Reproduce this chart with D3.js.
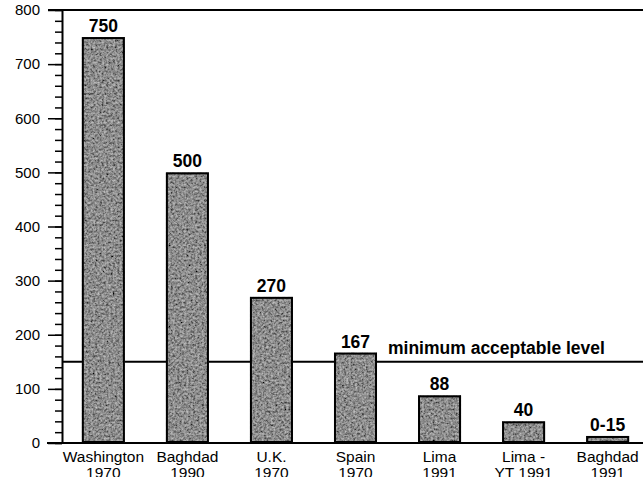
<!DOCTYPE html>
<html>
<head>
<meta charset="utf-8">
<script src="https://cdn.jsdelivr.net/npm/d3@7"></script>
<style>
  body { margin: 0; background: #fff; }
  text { font-family: "Liberation Sans", Arial, Helvetica, sans-serif; fill: #000; }
</style>
</head>
<body>
<script>
let sites = ["Washington 1970", "Baghdad 1990", "U.K. 1970", "Spain 1970", "Lima 1991", "Lima - YT 1991", "Baghdad 1991"];
let nameLines = [["Washington", "1970"], ["Baghdad", "1990"], ["U.K.", "1970"], ["Spain", "1970"], ["Lima", "1991"], ["Lima -", "YT 1991"], ["Baghdad", "1991"]];
let values = [750, 500, 270, 167, 88, 40, 13];
let valueLabels = ["750", "500", "270", "167", "88", "40", "0-15"];
let minLevel = 150;
let minLevelLabel = "minimum acceptable level";
let majorTicks = [0, 100, 200, 300, 400, 500, 600, 700, 800];
let minorTicks = d3.range(0, 801, 20);

let svg = d3.select('body')
  .append('svg')
  .attr("width", 643)
  .attr("height", 477);

let left = 62;
let right = 643;

let y = d3.scaleLinear().domain([0, 800]).range([443, 10]);
let x = d3.scaleBand()
  .domain(sites)
  .range([60, 651])
  .paddingInner(0.488)
  .paddingOuter(0.26);

// grainy grey like the printed bars
let defs = svg.append("defs");
let f = defs.append("filter").attr("id", "grain")
  .attr("x", 0).attr("y", 0).attr("width", 1).attr("height", 1);
f.append("feTurbulence")
  .attr("type", "fractalNoise")
  .attr("baseFrequency", 0.45)
  .attr("numOctaves", 4)
  .attr("seed", 11)
  .attr("result", "noise");
f.append("feColorMatrix")
  .attr("in", "noise")
  .attr("type", "matrix")
  .attr("values", "1 0 0 0 0  1 0 0 0 0  1 0 0 0 0  0 0 0 0 1")
  .attr("result", "grey");
f.append("feComposite")
  .attr("in", "SourceGraphic")
  .attr("in2", "grey")
  .attr("operator", "arithmetic")
  .attr("k1", 0).attr("k2", 1).attr("k3", 0.7).attr("k4", -0.35)
  .attr("result", "mix");
f.append("feComposite")
  .attr("in", "mix")
  .attr("in2", "SourceAlpha")
  .attr("operator", "in");

// frame lines
svg.append("line")
  .attr("x1", 48).attr("x2", right)
  .attr("y1", y(800)).attr("y2", y(800))
  .attr("stroke", "#000").attr("stroke-width", 2);
svg.append("line")
  .attr("x1", 47).attr("x2", right)
  .attr("y1", y(0)).attr("y2", y(0))
  .attr("stroke", "#000").attr("stroke-width", 2);

// y axis: minor then major
let minorAxis = svg.append("g")
  .attr("transform", `translate(${left},0)`)
  .call(d3.axisLeft(y).tickValues(minorTicks).tickSize(7).tickFormat(""));
minorAxis.select(".domain").remove();
minorAxis.selectAll(".tick line").attr("stroke-width", 1.5);

let majorAxis = svg.append("g")
  .attr("transform", `translate(${left},0)`)
  .call(d3.axisLeft(y).tickValues(majorTicks).tickSize(14).tickSizeOuter(0).tickPadding(8));
majorAxis.select(".domain").attr("stroke-width", 2);
majorAxis.selectAll(".tick line").attr("stroke-width", 1.5);
majorAxis.selectAll(".tick text")
  .attr("font-size", 15)
  .attr("font-family", "Liberation Sans, Arial, sans-serif")
  .attr("fill", "#000");

// minimum acceptable level line
svg.append("line")
  .attr("x1", left).attr("x2", right)
  .attr("y1", y(minLevel)).attr("y2", y(minLevel))
  .attr("stroke", "#000").attr("stroke-width", 2);

svg.append("text")
  .attr("x", 388)
  .attr("y", y(minLevel) - 8)
  .attr("font-size", 17.5)
  .attr("font-weight", "bold")
  .text(minLevelLabel);

// bars
let bars = svg.append("g");
bars.selectAll("rect.fill")
  .data(values)
  .join("rect")
  .attr("class", "fill")
  .attr("x", (d, i) => x(sites[i]))
  .attr("y", d => y(d))
  .attr("width", x.bandwidth())
  .attr("height", d => y(0) - y(d))
  .attr("fill", "#8c8c8c")
  .attr("filter", "url(#grain)");
bars.selectAll("rect.edge")
  .data(values)
  .join("rect")
  .attr("class", "edge")
  .attr("x", (d, i) => x(sites[i]) + 1)
  .attr("y", d => y(d) + 1)
  .attr("width", x.bandwidth() - 2)
  .attr("height", d => Math.max(0, y(0) - y(d) - 2))
  .attr("fill", "none")
  .attr("stroke", "#000")
  .attr("stroke-width", 2);

// value labels
svg.selectAll("text.val")
  .data(values)
  .join("text")
  .attr("class", "val")
  .attr("x", (d, i) => x(sites[i]) + x.bandwidth() / 2)
  .attr("y", d => y(d) - 5)
  .attr("text-anchor", "middle")
  .attr("font-size", 17.5)
  .attr("font-weight", "bold")
  .text((d, i) => valueLabels[i]);

// category labels (second line runs off the bottom, as in the scan)
let cats = svg.selectAll("text.cat")
  .data(sites)
  .join("text")
  .attr("class", "cat")
  .attr("x", d => x(d) + x.bandwidth() / 2)
  .attr("y", 462)
  .attr("text-anchor", "middle")
  .attr("font-size", 15.5);
cats.selectAll("tspan")
  .data((d, i) => nameLines[i])
  .join("tspan")
  .attr("x", function() { return this.parentNode.getAttribute("x"); })
  .attr("dy", (d, j) => j === 0 ? 0 : 15.5)
  .text(d => d);
</script>
</body>
</html>
